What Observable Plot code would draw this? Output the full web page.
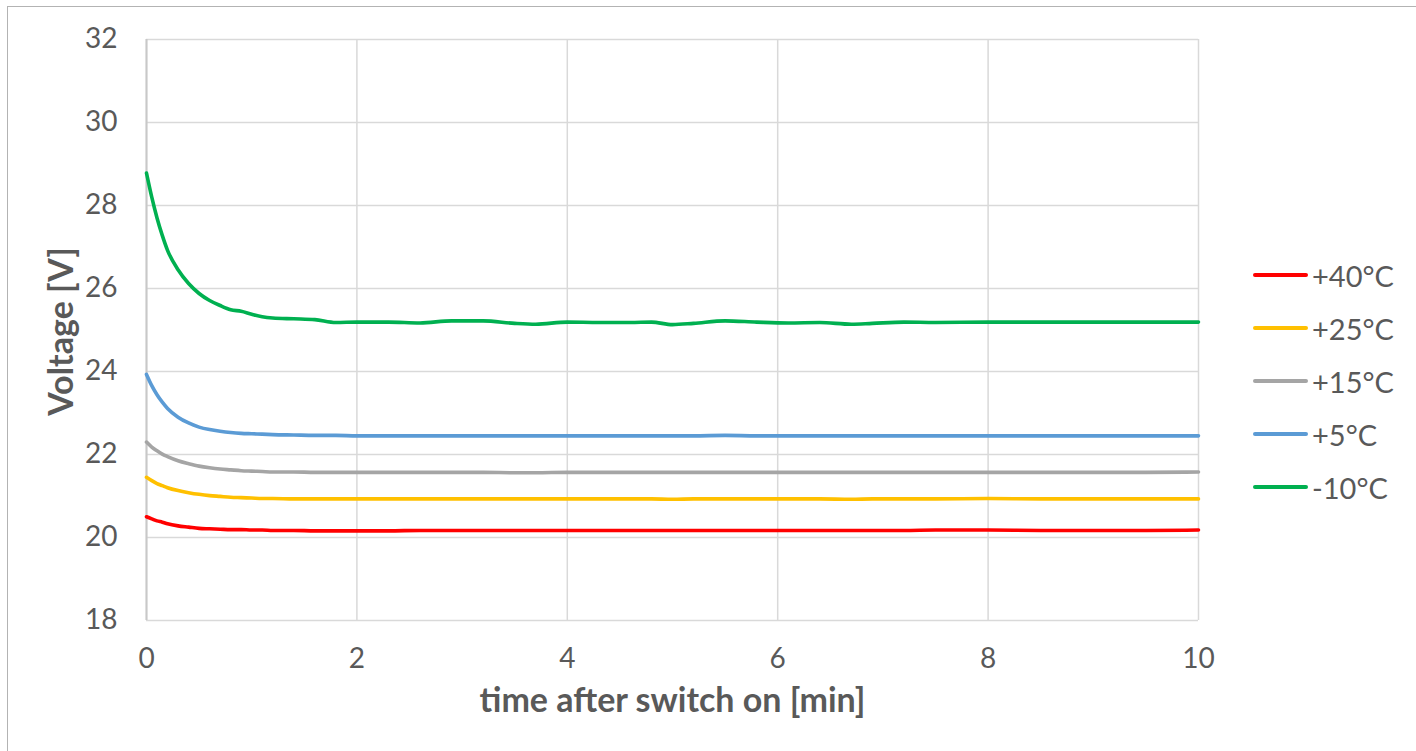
<!DOCTYPE html>
<html>
<head>
<meta charset="utf-8">
<script src="https://cdn.jsdelivr.net/npm/d3@7"></script>
<script src="https://cdn.jsdelivr.net/npm/@observablehq/plot@0.6"></script>
<style>
  html, body { margin: 0; padding: 0; background: #fff; overflow: hidden; }
  #wrap { position: relative; width: 1416px; height: 751px; font-family: Lato, "Open Sans", sans-serif; color: #595959; }
  #frame { position: absolute; left: 7px; top: 6px; width: 1430px; height: 770px; border: 1.5px solid #b3b3b3; box-sizing: border-box; pointer-events: none; }
  #legend { position: absolute; left: 1253px; top: 0; }
  .item { position: absolute; left: 0; width: 180px; height: 30px; display: flex; align-items: center; }
  .swatch { width: 55px; height: 3.8px; border-radius: 2px; margin-right: 4px; }
  .lbl { font-size: 29px; color: #595959; white-space: nowrap; }
</style>
</head>
<body>
<div id="wrap">
  <div id="chart"></div>
  <div id="legend"></div>
  <div id="frame"></div>
</div>
<script>
// time after switch on [min]
const time = [0, 0.05, 0.1, 0.15, 0.2, 0.3, 0.4, 0.5, 0.6, 0.7, 0.8, 0.9, 1.0, 1.1, 1.2, 1.4, 1.6, 1.8, 2.0, 2.3, 2.6, 2.9, 3.2, 3.5, 3.7, 4.0, 4.3, 4.6, 4.8, 5.0, 5.2, 5.5, 5.8, 6.1, 6.4, 6.7, 6.9, 7.2, 7.5, 8.0, 8.5, 9.0, 9.5, 10.0];

const seriesNames = ["+40°C", "+25°C", "+15°C", "+5°C", "-10°C"];
const seriesColors = ["#ff0000", "#ffc000", "#a5a5a5", "#5b9bd5", "#00b050"];

const v40 = [20.50, 20.45, 20.40, 20.37, 20.33, 20.28, 20.25, 20.22, 20.21, 20.20, 20.19, 20.19, 20.18, 20.18, 20.17, 20.17, 20.16, 20.16, 20.16, 20.16, 20.17, 20.17, 20.17, 20.17, 20.17, 20.17, 20.17, 20.17, 20.17, 20.17, 20.17, 20.17, 20.17, 20.17, 20.17, 20.17, 20.17, 20.17, 20.18, 20.18, 20.17, 20.17, 20.17, 20.18];
const v25 = [21.45, 21.37, 21.30, 21.25, 21.20, 21.13, 21.08, 21.04, 21.01, 20.99, 20.97, 20.96, 20.95, 20.94, 20.94, 20.93, 20.93, 20.93, 20.93, 20.93, 20.93, 20.93, 20.93, 20.93, 20.93, 20.93, 20.93, 20.93, 20.93, 20.92, 20.93, 20.93, 20.93, 20.93, 20.93, 20.92, 20.93, 20.93, 20.93, 20.94, 20.93, 20.93, 20.93, 20.93];
const v15 = [22.30, 22.18, 22.09, 22.01, 21.95, 21.85, 21.78, 21.72, 21.68, 21.65, 21.63, 21.61, 21.60, 21.59, 21.58, 21.58, 21.57, 21.57, 21.57, 21.57, 21.57, 21.57, 21.57, 21.56, 21.56, 21.57, 21.57, 21.57, 21.57, 21.57, 21.57, 21.57, 21.57, 21.57, 21.57, 21.57, 21.57, 21.57, 21.57, 21.57, 21.57, 21.57, 21.57, 21.58];
const v5  = [23.93, 23.66, 23.44, 23.26, 23.11, 22.90, 22.76, 22.66, 22.60, 22.56, 22.53, 22.51, 22.50, 22.49, 22.48, 22.47, 22.46, 22.46, 22.45, 22.45, 22.45, 22.45, 22.45, 22.45, 22.45, 22.45, 22.45, 22.45, 22.45, 22.45, 22.45, 22.46, 22.45, 22.45, 22.45, 22.45, 22.45, 22.45, 22.45, 22.45, 22.45, 22.45, 22.45, 22.45];
const vm10 = [28.78, 28.20, 27.70, 27.28, 26.92, 26.45, 26.12, 25.88, 25.71, 25.59, 25.49, 25.45, 25.38, 25.32, 25.29, 25.27, 25.25, 25.18, 25.19, 25.19, 25.17, 25.22, 25.22, 25.16, 25.14, 25.19, 25.18, 25.18, 25.19, 25.13, 25.16, 25.22, 25.19, 25.17, 25.18, 25.14, 25.16, 25.19, 25.18, 25.19, 25.19, 25.19, 25.19, 25.19];

const xTicks = [0, 2, 4, 6, 8, 10];
const yTicks = [18, 20, 22, 24, 26, 28, 30, 32];

const allValues = [v40, v25, v15, v5, vm10];
const rows = [];
seriesNames.forEach((name, i) => {
  time.forEach((t, j) => rows.push({series: name, t, v: allValues[i][j]}));
});

const gridColor = "#d9d9d9";
const textColor = "#595959";

const plot = Plot.plot({
  width: 1416,
  height: 751,
  marginLeft: 146,
  marginRight: 218,
  marginTop: 39,
  marginBottom: 131,
  style: {fontFamily: "Lato, 'Open Sans', sans-serif", color: textColor, background: "transparent"},
  x: {domain: [0, 10], ticks: xTicks},
  y: {domain: [18, 32], ticks: yTicks},
  color: {domain: seriesNames, range: seriesColors},
  marks: [
    Plot.gridX(xTicks, {stroke: gridColor, strokeOpacity: 1, strokeWidth: 1.5}),
    Plot.gridY(yTicks, {stroke: gridColor, strokeOpacity: 1, strokeWidth: 1.5}),
    Plot.ruleX([0], {stroke: "#c8c8c8", strokeWidth: 2}),
    Plot.axisX(xTicks, {tickSize: 0, tickPadding: 28, fontSize: 28, label: null, fill: textColor}),
    Plot.axisY(yTicks, {tickSize: 0, tickPadding: 29, fontSize: 28, label: null, fill: textColor}),
    Plot.line(rows, {x: "t", y: "v", z: "series", stroke: "series", strokeWidth: 3.6, curve: "monotone-x"}),
    Plot.text(["time after switch on [min]"], {frameAnchor: "bottom", textAnchor: "middle", dy: 91, fontSize: 34, fontWeight: "bold", fill: textColor}),
    Plot.text(["Voltage [V]"], {frameAnchor: "left", textAnchor: "middle", dx: -84, dy: 1.5, rotate: -90, fontSize: 34, fontWeight: "bold", fill: textColor})
  ]
});
document.getElementById("chart").appendChild(plot);

const legend = document.getElementById("legend");
const legendTops = [275, 328, 381, 434, 487];
seriesNames.forEach((name, i) => {
  const item = document.createElement("div");
  item.className = "item";
  item.style.top = (legendTops[i] - 15) + "px";
  const sw = document.createElement("div");
  sw.className = "swatch";
  sw.style.background = seriesColors[i];
  const lb = document.createElement("span");
  lb.className = "lbl";
  lb.textContent = name;
  item.appendChild(sw);
  item.appendChild(lb);
  legend.appendChild(item);
});
</script>
</body>
</html>
